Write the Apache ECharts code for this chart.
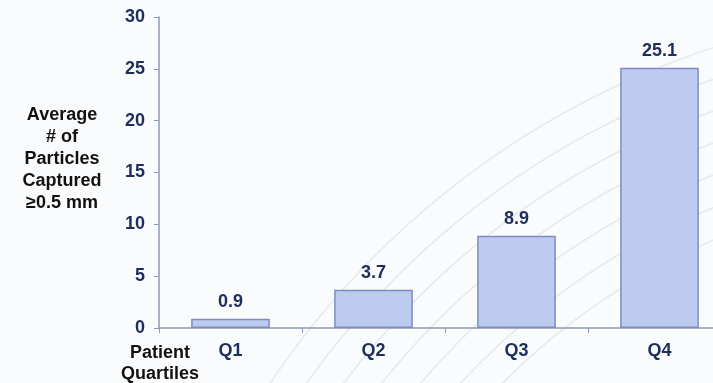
<!DOCTYPE html>
<html>
<head>
<meta charset="utf-8">
<script src="https://cdn.jsdelivr.net/npm/echarts@6/dist/echarts.min.js"></script>
<style>
  html, body { margin: 0; padding: 0; background: #fafbfc; }
  #chart { width: 713px; height: 383px; }
</style>
</head>
<body>
<div id="chart"></div>
<script>
// Patient quartiles and mean particle counts
const categories = ['Q1', 'Q2', 'Q3', 'Q4'];
const particleCounts = [0.9, 3.7, 8.9, 25.1];
const yTicks = [0, 5, 10, 15, 20, 25, 30];

const yTitleLines = ['Average', '# of', 'Particles', 'Captured', '\u22650.5 mm'];
const xTitleLines = ['Patient', 'Quartiles'];

const navy = '#1f2d5c';
const fontFamily = 'Liberation Sans, Arial, sans-serif';

// Faint decorative arcs in the background
const arcs = [];
for (let i = 0; i < 7; i++) {
  arcs.push({
    type: 'circle',
    z: -10,
    silent: true,
    shape: { cx: 980, cy: 860, r: 855 - i * 30 },
    style: { fill: 'none', stroke: '#e7e9ed', lineWidth: 1.6 }
  });
}

const chart = echarts.init(document.getElementById('chart'), null, { renderer: 'canvas' });
chart.setOption({
  backgroundColor: '#fafbfc',
  animation: false,
  grid: {
    left: 159, width: 572, top: 17, bottom: 55,
    containLabel: false, outerBoundsMode: 'none'
  },
  xAxis: {
    type: 'category',
    data: categories,
    axisLine: { lineStyle: { color: '#8e98b8', width: 1.5 } },
    axisTick: { show: true, length: 5, inside: false, lineStyle: { color: '#8e98b8' } },
    axisLabel: {
      color: navy, fontWeight: 'bold', fontSize: 18, fontFamily: fontFamily, margin: 14
    }
  },
  yAxis: {
    type: 'value',
    min: yTicks[0],
    max: yTicks[yTicks.length - 1],
    interval: 5,
    splitLine: { show: false },
    axisLine: { show: true, lineStyle: { color: '#8e98b8', width: 1.5 } },
    axisTick: { show: true, length: 5, lineStyle: { color: '#8e98b8' } },
    axisLabel: {
      color: navy, fontWeight: 'bold', fontSize: 18, fontFamily: fontFamily, margin: 14
    }
  },
  series: [{
    type: 'bar',
    data: particleCounts,
    barWidth: '55%',
    itemStyle: { color: '#bdcbf0', borderColor: '#7d8dbd', borderWidth: 1.5 },
    label: {
      show: true,
      position: 'top',
      distance: 8,
      color: navy,
      fontWeight: 'bold',
      fontSize: 18,
      fontFamily: fontFamily,
      formatter: p => p.value.toFixed(1)
    }
  }],
  graphic: arcs.concat([
    {
      type: 'text',
      x: 62,
      y: 104,
      style: {
        text: yTitleLines.join('\n'),
        align: 'center',
        verticalAlign: 'top',
        fill: '#111111',
        font: 'bold 18px ' + fontFamily,
        lineHeight: 22
      }
    },
    {
      type: 'text',
      x: 160,
      y: 343,
      style: {
        text: xTitleLines.join('\n'),
        align: 'center',
        verticalAlign: 'top',
        fill: '#111111',
        font: 'bold 18px ' + fontFamily,
        lineHeight: 21
      }
    }
  ])
});
</script>
</body>
</html>
